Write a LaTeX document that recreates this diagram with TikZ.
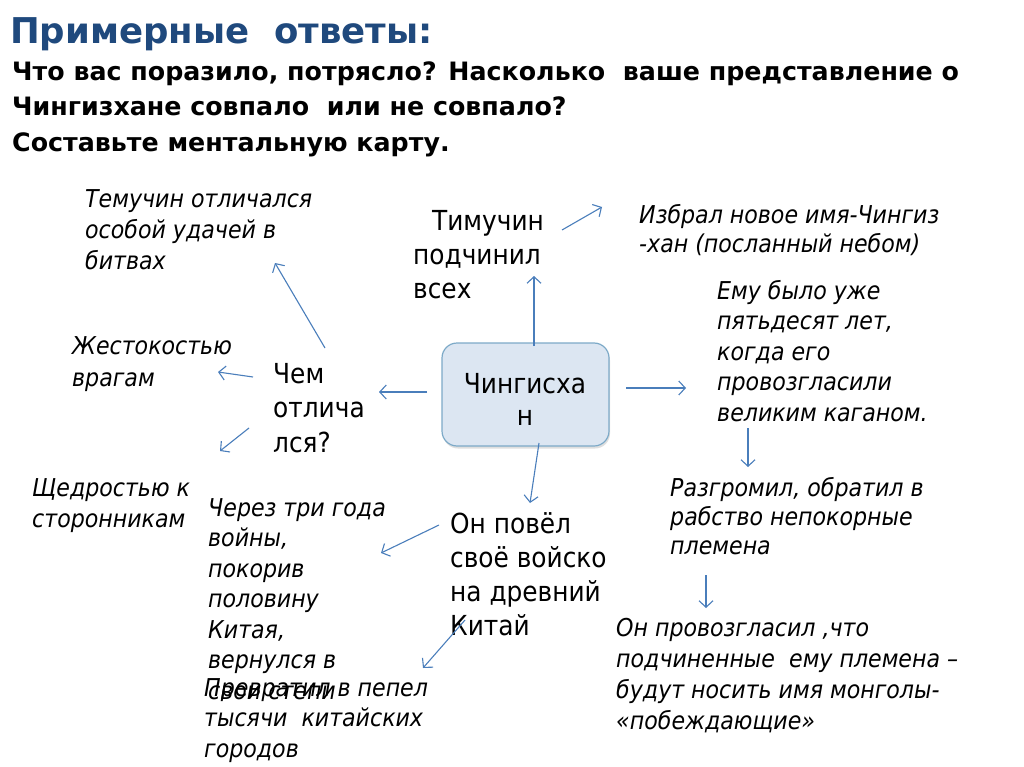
\documentclass[tikz,border=0pt]{standalone}
\usepackage{fontspec}
\setmainfont{DejaVu Sans Condensed}[BoldFont={DejaVu Sans Condensed Bold},ItalicFont={DejaVu Sans Condensed Oblique}]
\newfontfamily\headfont{DejaVu Sans}
\usetikzlibrary{arrows.meta,shadows}
\definecolor{titleblue}{RGB}{31,73,125}
\definecolor{arrowblue}{RGB}{74,126,187}
\definecolor{boxfill}{RGB}{220,230,242}
\definecolor{boxline}{RGB}{125,170,200}
\tikzset{
  itext/.style={anchor=north west,inner sep=0pt,align=left,font=\itshape\fontsize{24.6}{#1}\selectfont},
  itext/.default=30.5,
  utext/.style={anchor=north west,inner sep=0pt,align=left,font=\fontsize{27.6}{#1}\selectfont},
  utext/.default=34.5,
  head/.style={anchor=north west,inner sep=0pt,font=\headfont\bfseries\fontsize{25.3}{28}\selectfont},
  arr/.style={draw=arrowblue,line width=1.1pt,-{Straight Barb[length=6.5pt,width=14pt,line width=1.1pt]}},
  centerbox/.style={draw=boxline,line width=1.2pt,fill=boxfill,rounded corners=15pt,
    drop shadow={shadow xshift=1pt,shadow yshift=-2.5pt,opacity=0.25}},
}
\begin{document}
\begin{tikzpicture}[x=1pt,y=-1pt]
\useasboundingbox[fill=white] (0,0) rectangle (1024,767);
% headings
\node[anchor=north west,inner sep=0pt,text=titleblue,font=\headfont\bfseries\fontsize{35.5}{40}\selectfont] (title) at (10,17) {Примерные\ \ ответы:};
\node[head] (q1) at (12,62) {Что вас поразило, потрясло? Насколько\ \ ваше представление о};
\node[head] (q2) at (12,97) {Чингизхане совпало\ \ или не совпало?};
\node[head] (q3) at (12,133) {Составьте ментальную карту.};
% central box
\path[centerbox] (442,343) rectangle (609,446);
\node[align=center,font=\fontsize{27.6}{32}\selectfont,inner sep=0pt] (chingis) at (525,399) {Чингисха\\н};
% upright nodes
\node[utext=34] (timuchin) at (413,210) {\hspace*{19pt}Тимучин\\подчинил\\всех};
\node[utext=34.5] (chem) at (273,363) {Чем\\отлича\\лся?};
\node[utext=34] (povel) at (450,512) {Он повёл\\своё войско\\на древний\\Китай};
% italic nodes
\node[itext=31] (temuchin) at (85,189) {Темучин отличался\\особой удачей в\\битвах};
\node[itext=32] (zhest) at (72,336) {Жестокостью\\врагам};
\node[itext=31] (shchedr) at (32,478) {Щедростью к\\сторонникам};
\node[itext=30.5] (cherez) at (208,498) {Через три года\\войны,\\покорив\\половину\\Китая,\\вернулся в\\свои степи};
\node[itext=30.5] (prevr) at (204,678) {Превратил в пепел\\тысячи\ \ китайских\\городов};
\node[itext=31] (provozgl) at (616,618) {Он провозгласил ,что\\подчиненные\ \ ему племена –\\будут носить имя монголы-\\«побеждающие»};
\node[itext=29] (razgr) at (670,477) {Разгромил, обратил в\\рабство непокорные\\племена};
\node[itext=30.5] (emu) at (717,280) {Ему было уже\\пятьдесят лет,\\когда его\\провозгласили\\великим каганом.};
\node[itext=29] (izbral) at (639,204) {Избрал новое имя-Чингиз\\-хан (посланный небом)};
% arrow end points
\coordinate (a1s) at (325,348); \coordinate (a1e) at (275,263);
\coordinate (a2s) at (253,377); \coordinate (a2e) at (218,372);
\coordinate (a3s) at (249,428); \coordinate (a3e) at (220,451);
\coordinate (a4s) at (427,392); \coordinate (a4e) at (379,392);
\coordinate (a5s) at (534,346); \coordinate (a5e) at (534,276);
\coordinate (a6s) at (562,230); \coordinate (a6e) at (602,207);
\coordinate (a7s) at (626,388); \coordinate (a7e) at (686,388);
\coordinate (a8s) at (539,443); \coordinate (a8e) at (530,503);
\coordinate (a9s) at (748,428); \coordinate (a9e) at (748,467);
\coordinate (a10s) at (706,575); \coordinate (a10e) at (706,608);
\coordinate (a11s) at (439,525); \coordinate (a11e) at (381,553);
\coordinate (a12s) at (465,620); \coordinate (a12e) at (423,668);
\foreach \i in {1,...,12} {\draw[arr] (a\i s) -- (a\i e);}
\end{tikzpicture}
\end{document}
